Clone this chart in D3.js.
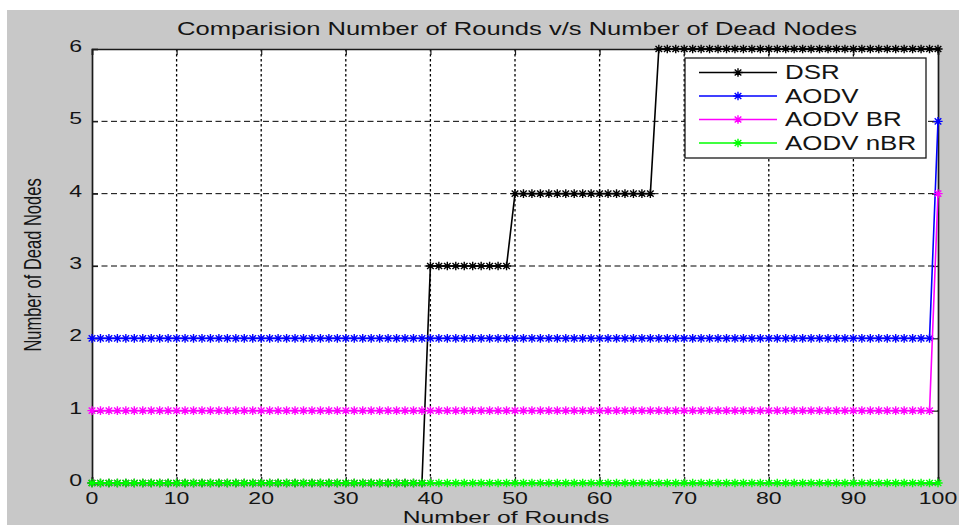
<!DOCTYPE html>
<html>
<head>
<meta charset="utf-8">
<script src="https://cdn.jsdelivr.net/npm/d3@7"></script>
<style>
  html, body { margin: 0; padding: 0; background: #ffffff; }
  svg { display: block; }
  text { font-family: "Liberation Sans", Arial, Helvetica, sans-serif; fill: #141414; }
</style>
</head>
<body>
<svg id="chart" width="959" height="525"></svg>
<script>
// Dead nodes per round (rounds 0..100) for each routing protocol
const seriesNames = ["DSR", "AODV", "AODV BR", "AODV nBR"];
const seriesColors = ["#000000", "#0000ff", "#ff00ff", "#00ff00"];

const dsr = [
  0,0,0,0,0,0,0,0,0,0, 0,0,0,0,0,0,0,0,0,0,
  0,0,0,0,0,0,0,0,0,0, 0,0,0,0,0,0,0,0,0,0,
  3,3,3,3,3,3,3,3,3,3, 4,4,4,4,4,4,4,4,4,4,
  4,4,4,4,4,4,4,6,6,6, 6,6,6,6,6,6,6,6,6,6,
  6,6,6,6,6,6,6,6,6,6, 6,6,6,6,6,6,6,6,6,6,
  6
];
const aodv = [
  2,2,2,2,2,2,2,2,2,2, 2,2,2,2,2,2,2,2,2,2,
  2,2,2,2,2,2,2,2,2,2, 2,2,2,2,2,2,2,2,2,2,
  2,2,2,2,2,2,2,2,2,2, 2,2,2,2,2,2,2,2,2,2,
  2,2,2,2,2,2,2,2,2,2, 2,2,2,2,2,2,2,2,2,2,
  2,2,2,2,2,2,2,2,2,2, 2,2,2,2,2,2,2,2,2,2,
  5
];
const aodvBR = [
  1,1,1,1,1,1,1,1,1,1, 1,1,1,1,1,1,1,1,1,1,
  1,1,1,1,1,1,1,1,1,1, 1,1,1,1,1,1,1,1,1,1,
  1,1,1,1,1,1,1,1,1,1, 1,1,1,1,1,1,1,1,1,1,
  1,1,1,1,1,1,1,1,1,1, 1,1,1,1,1,1,1,1,1,1,
  1,1,1,1,1,1,1,1,1,1, 1,1,1,1,1,1,1,1,1,1,
  4
];
const aodvNBR = [
  0,0,0,0,0,0,0,0,0,0, 0,0,0,0,0,0,0,0,0,0,
  0,0,0,0,0,0,0,0,0,0, 0,0,0,0,0,0,0,0,0,0,
  0,0,0,0,0,0,0,0,0,0, 0,0,0,0,0,0,0,0,0,0,
  0,0,0,0,0,0,0,0,0,0, 0,0,0,0,0,0,0,0,0,0,
  0,0,0,0,0,0,0,0,0,0, 0,0,0,0,0,0,0,0,0,0,
  0
];
const xTicks = [0, 10, 20, 30, 40, 50, 60, 70, 80, 90, 100];
const yTicks = [0, 1, 2, 3, 4, 5, 6];

const titleText = "Comparision Number of Rounds v/s  Number of Dead Nodes";
const xLabelText = "Number of Rounds";
const yLabelText = "Number of Dead Nodes";

const allSeries = [dsr, aodv, aodvBR, aodvNBR];

const svg = d3.select("#chart");
const W = 959, H = 525;
const plot = { left: 92, right: 938, top: 49, bottom: 483 };
const stretch = 1.4; // horizontal glyph stretch of the figure text

const x = d3.scaleLinear().domain([0, 100]).range([plot.left, plot.right]);
const y = d3.scaleLinear().domain([0, 6]).range([plot.bottom, plot.top]);

// figure background
svg.append("rect").attr("x", 7).attr("y", 10).attr("width", W - 7).attr("height", H - 10)
  .attr("fill", "#c8c8c8");

// axes area
svg.append("rect").attr("x", plot.left).attr("y", plot.top)
  .attr("width", plot.right - plot.left).attr("height", plot.bottom - plot.top)
  .attr("fill", "#ffffff");

// grid
const grid = svg.append("g");
grid.selectAll("line.vx").data(xTicks.slice(1, -1)).join("line")
  .attr("x1", d => x(d)).attr("x2", d => x(d))
  .attr("y1", plot.top).attr("y2", plot.bottom)
  .attr("stroke", "#000").attr("stroke-width", 1.3).attr("stroke-dasharray", "2.5,2.5");
grid.selectAll("line.hy").data(yTicks.slice(1, -1)).join("line")
  .attr("y1", d => y(d)).attr("y2", d => y(d))
  .attr("x1", plot.left).attr("x2", plot.right)
  .attr("stroke", "#000").attr("stroke-width", 1).attr("stroke-dasharray", "6,3.5");

// axes with inward ticks on all four sides
const tickLen = 6;
const axisG = svg.append("g");
const xAxisB = d3.axisBottom(x).tickValues(xTicks).tickSize(-tickLen).tickFormat("");
const xAxisT = d3.axisTop(x).tickValues(xTicks).tickSize(-tickLen).tickFormat("");
const yAxisL = d3.axisLeft(y).tickValues(yTicks).tickSize(-tickLen).tickFormat("");
const yAxisR = d3.axisRight(y).tickValues(yTicks).tickSize(-tickLen).tickFormat("");
axisG.append("g").attr("transform", `translate(0,${plot.bottom})`).call(xAxisB);
axisG.append("g").attr("transform", `translate(0,${plot.top})`).call(xAxisT);
axisG.append("g").attr("transform", `translate(${plot.left},0)`).call(yAxisL);
axisG.append("g").attr("transform", `translate(${plot.right},0)`).call(yAxisR);
axisG.selectAll(".domain").attr("stroke", "#1a1a1a").attr("stroke-width", 1.7);
axisG.selectAll(".tick line").attr("stroke", "#1a1a1a").attr("stroke-width", 1.2);

// tick labels
svg.append("g").selectAll("text").data(xTicks).join("text")
  .attr("transform", d => `translate(${x(d)},504) scale(${stretch},1)`)
  .attr("text-anchor", "middle").attr("font-size", 16.5)
  .text(d => d);
svg.append("g").selectAll("text").data(yTicks).join("text")
  .attr("transform", d => `translate(82,${y(d) + 3}) scale(${stretch},1)`)
  .attr("text-anchor", "end").attr("font-size", 16.5)
  .text(d => d);

// title and axis labels
svg.append("text")
  .attr("x", 517).attr("y", 35)
  .attr("text-anchor", "middle").attr("font-size", 18.5)
  .attr("textLength", 680).attr("lengthAdjust", "spacingAndGlyphs")
  .text(titleText);
svg.append("text")
  .attr("transform", `translate(506,523) scale(1.45,1)`)
  .attr("text-anchor", "middle").attr("font-size", 17)
  .text(xLabelText);
svg.append("text")
  .attr("transform", `translate(41,265) rotate(-90) scale(1,${stretch})`)
  .attr("text-anchor", "middle").attr("font-size", 16.5)
  .text(yLabelText);

// asterisk marker ('+' combined with 'x')
function asterisk(a, b) {
  const c = a * 0.72, e = b * 0.72;
  return `M${-a},0H${a}M0,${-b}V${b}M${-c},${-e}L${c},${e}M${-c},${e}L${c},${-e}`;
}
const markerPath = asterisk(4.6, 4.3);

const line = d3.line().x((d, i) => x(i)).y(d => y(d));

const dataG = svg.append("g");
allSeries.forEach((vals, k) => {
  const g = dataG.append("g");
  g.append("path").datum(vals).attr("d", line)
    .attr("fill", "none").attr("stroke", seriesColors[k]).attr("stroke-width", 1.6);
  g.selectAll("path.m").data(vals).join("path").attr("class", "m")
    .attr("transform", (d, i) => `translate(${x(i)},${y(d)})`)
    .attr("d", markerPath)
    .attr("fill", "none").attr("stroke", seriesColors[k]).attr("stroke-width", 1.4);
});

// legend
const leg = svg.append("g");
const lg = { x: 685, y: 58, w: 241, h: 100 };
leg.append("rect").attr("x", lg.x).attr("y", lg.y).attr("width", lg.w).attr("height", lg.h)
  .attr("fill", "#ffffff").attr("stroke", "#1a1a1a").attr("stroke-width", 1.3);
const rowY = [72.5, 96, 119.5, 143];
seriesNames.forEach((name, k) => {
  const ry = rowY[k];
  leg.append("line").attr("x1", 699).attr("x2", 777).attr("y1", ry).attr("y2", ry)
    .attr("stroke", seriesColors[k]).attr("stroke-width", 1.5);
  leg.append("path").attr("transform", `translate(738,${ry})`).attr("d", markerPath)
    .attr("fill", "none").attr("stroke", seriesColors[k]).attr("stroke-width", 1.4);
  leg.append("text")
    .attr("transform", `translate(785,${ry + 6.8}) scale(1.33,1)`)
    .attr("font-size", 19.5)
    .text(name);
});
</script>
</body>
</html>
